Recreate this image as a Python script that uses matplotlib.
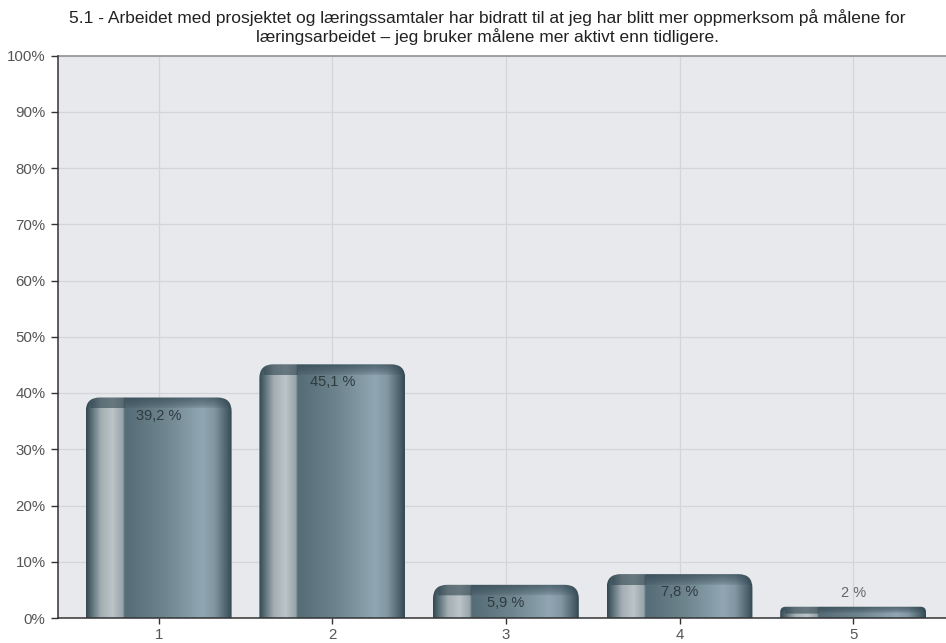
import numpy as np
import matplotlib
matplotlib.use("Agg")
import matplotlib.pyplot as plt
from matplotlib.path import Path
from matplotlib.patches import PathPatch
from matplotlib.colors import to_rgb

plt.rcParams['font.family'] = ['Liberation Sans', 'DejaVu Sans']

title = ("5.1 - Arbeidet med prosjektet og læringssamtaler har bidratt til at jeg har blitt mer oppmerksom på målene for\n"
         "læringsarbeidet – jeg bruker målene mer aktivt enn tidligere.")
categories = ["1", "2", "3", "4", "5"]
values = [39.2, 45.1, 5.9, 7.8, 2.0]
value_labels = ["39,2 %", "45,1 %", "5,9 %", "7,8 %", "2 %"]
yticks = [0, 10, 20, 30, 40, 50, 60, 70, 80, 90, 100]
ytick_labels = [f"{t}%" for t in yticks]

W, H, DPI = 946, 643, 100
fig = plt.figure(figsize=(W / DPI, H / DPI), dpi=DPI)
ax_l, ax_b, ax_w, ax_h = 58, 25, 888, 562.5
ax = fig.add_axes([ax_l / W, ax_b / H, ax_w / W, ax_h / H])
xmin, xmax = 0.42, 5.535
ax.set_xlim(xmin, xmax)
ax.set_ylim(0, 100)
ax.set_facecolor("#e7e9ec")
px_x = ax_w / (xmax - xmin)
px_y = ax_h / 100.0

xs = np.arange(1, len(categories) + 1)
ax.set_xticks(xs)
ax.set_xticklabels(categories)
ax.set_yticks(yticks)
ax.set_yticklabels(ytick_labels)
ax.tick_params(axis='both', colors="#333333", labelcolor="#555555", labelsize=10.8,
               length=5, width=1, direction='out')
ax.tick_params(axis='x', pad=3, length=4)
ax.tick_params(axis='y', pad=4)
for s in ["top", "right"]:
    ax.spines[s].set_visible(False)
for s in ["left", "bottom"]:
    ax.spines[s].set_color("#333333")
    ax.spines[s].set_linewidth(1.1)
    ax.spines[s].set_zorder(5)
ax.grid(True, color="#d3d5d8", lw=0.9, zorder=0)
ax.set_axisbelow(True)
ax.axhline(100, color="#9a9a9a", lw=1.3, zorder=1, clip_on=False)

# horizontal colour profile of the metallic bars
stops = [(0.00, "#364a54"), (0.04, "#5e727c"), (0.10, "#a3aeb3"), (0.18, "#bcc4c8"),
         (0.25, "#98a5ab"), (0.265, "#566c77"), (0.32, "#5a707a"), (0.55, "#70868f"),
         (0.80, "#90a6b2"), (0.88, "#8297a2"), (0.95, "#566d78"), (1.00, "#364a54")]
sp = np.array([s[0] for s in stops])
sc = np.array([to_rgb(s[1]) for s in stops])
cap_col = np.array(to_rgb("#2f444e"))

bar_w = 0.84
for x, v, lab in zip(xs, values, value_labels):
    x0, x1 = x - bar_w / 2, x + bar_w / 2
    wpx = int(round(bar_w * px_x))
    hpx = max(2, int(round(v * px_y)))
    f = np.linspace(0, 1, wpx)
    prof = np.stack([np.interp(f, sp, sc[:, k]) for k in range(3)], axis=1)
    img = np.repeat(prof[None, :, :], hpx, axis=0)
    cap_h = min(11.0, hpx * 0.55)
    d = np.arange(hpx)[:, None]
    soft = np.clip(1 - d / cap_h, 0, 1) ** 0.6 * 0.9
    stripe = ((f > 0.03) & (f < 0.265))[None, :]
    hard = np.where(d < cap_h, 0.85, 0.0)
    wgt = np.where(stripe, np.maximum(hard, soft), soft)
    capcolors = prof * 0.3 + cap_col * 0.7
    img = img * (1 - wgt[..., None]) + capcolors[None, :, :] * wgt[..., None]
    # rounded-top clip path
    r = min(14.0, hpx * 0.5)
    rx, ry = r / px_x, r / px_y
    verts = [(x0, -1), (x0, v - ry), (x0, v), (x0 + rx, v), (x1 - rx, v), (x1, v),
             (x1, v - ry), (x1, -1), (x0, -1)]
    codes = [Path.MOVETO, Path.LINETO, Path.CURVE3, Path.CURVE3, Path.LINETO,
             Path.CURVE3, Path.CURVE3, Path.LINETO, Path.CLOSEPOLY]
    patch = PathPatch(Path(verts, codes), facecolor='none', edgecolor='none',
                      transform=ax.transData)
    ax.add_patch(patch)
    im = ax.imshow(img, extent=(x0, x1, 0, v), origin='upper', aspect='auto',
                   interpolation='bilinear', zorder=3)
    im.set_clip_path(patch)
    if v * px_y > 25:
        ax.text(x, v - 18 / px_y, lab, ha='center', va='center', fontsize=10.5,
                color="#2e3a40", zorder=4)
    else:
        ax.text(x, v + 14 / px_y, lab, ha='center', va='center', fontsize=10.5,
                color="#666666", zorder=4)

ax.set_xlim(xmin, xmax)
ax.set_ylim(0, 100)
fig.text(487 / W, 1 - 27 / H, title, ha='center', va='center', fontsize=12.5,
         color="#222222", linespacing=1.15)
fig.savefig("out.png", dpi=DPI)
